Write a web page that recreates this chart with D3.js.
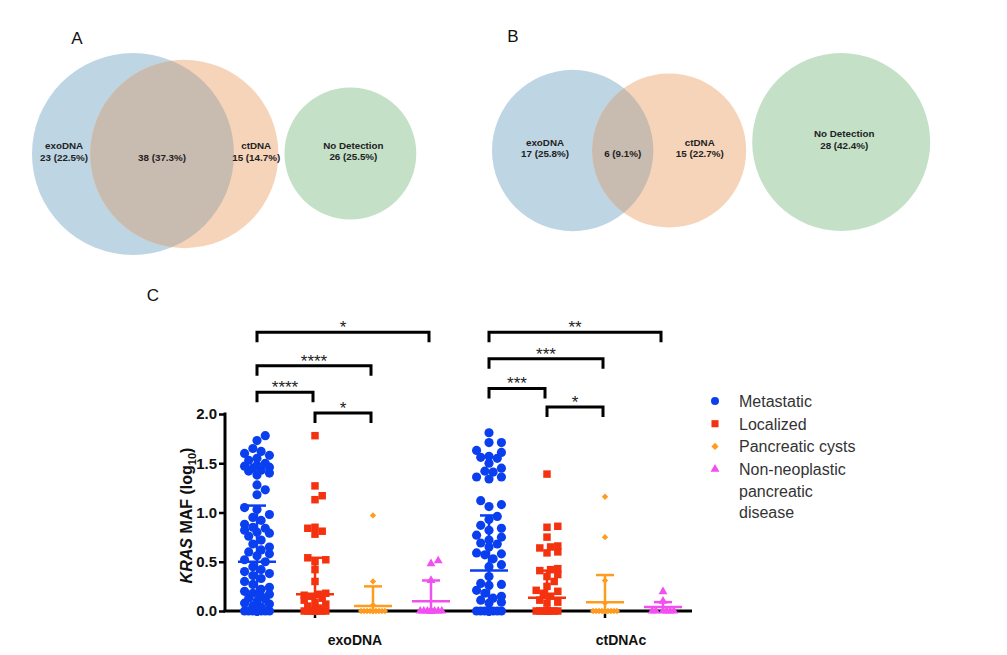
<!DOCTYPE html>
<html>
<head>
<meta charset="utf-8">
<script src="https://cdn.jsdelivr.net/npm/d3@7"></script>
<style>
  body { margin: 0; background: #fff; }
  svg { font-family: "Liberation Sans", Arial, sans-serif; }
</style>
</head>
<body>
<svg id="fig" width="1007" height="655"></svg>
<script>
// ---- venn data (A: all patients, B: second cohort) ----
const vennNames = ['exoDNA', 'ctDNA', 'No Detection'];
// exo only, both, ct only, none
const vennCountsA = [23, 38, 15, 26];
const vennPctA = ['22.5%', '37.3%', '14.7%', '25.5%'];
const vennCountsB = [17, 6, 15, 28];
const vennPctB = ['25.8%', '9.1%', '22.7%', '42.4%'];

// ---- panel C data ----
const groups = ['exoMet', 'exoLoc', 'exoCyst', 'exoNon', 'ctMet', 'ctLoc', 'ctCyst', 'ctNon'];
const groupType = [0, 1, 2, 3, 0, 1, 2, 3];
const typeNames = ['Metastatic', 'Localized', 'Pancreatic cysts', 'Non-neoplastic\npancreatic\ndisease'];

const exoMet = [1.78, 1.73, 1.65, 1.62, 1.60, 1.58, 1.55, 1.53, 1.50, 1.48, 1.47, 1.46, 1.45, 1.43, 1.42, 1.40, 1.38,
  1.28, 1.23, 1.18, 1.05, 1.03, 0.98, 0.95, 0.92, 0.88, 0.85, 0.84, 0.82, 0.80, 0.79, 0.76, 0.72, 0.68, 0.65, 0.62,
  0.60, 0.58, 0.56, 0.52, 0.50, 0.45, 0.42, 0.40, 0.38, 0.36, 0.33, 0.30, 0.27, 0.24, 0.22, 0.20, 0.18, 0.17, 0.15,
  0.13, 0.12, 0.10, 0.08, 0.07, 0.05, 0.04, 0.02, 0, 0, 0, 0, 0, 0, 0, 0, 0, 0, 0, 0, 0];
const exoLoc = [1.78, 1.27, 1.17, 1.13, 0.85, 0.84, 0.81, 0.78, 0.54, 0.52, 0.50, 0.42, 0.30, 0.18, 0.17, 0.16,
  0.15, 0.13, 0.11, 0.09, 0.07, 0.05, 0.03, 0.02, 0, 0, 0, 0, 0, 0, 0, 0, 0, 0];
const exoCyst = [0.97, 0.30, 0.06, 0, 0, 0, 0, 0, 0, 0, 0, 0, 0, 0, 0];
const exoNon = [0.51, 0.48, 0.31, 0, 0, 0, 0, 0, 0, 0, 0, 0, 0, 0];
const ctMet = [1.81, 1.71, 1.71, 1.63, 1.61, 1.57, 1.56, 1.55, 1.50, 1.45, 1.42, 1.41, 1.36, 1.36, 1.34, 1.12, 1.08,
  1.06, 0.96, 0.93, 0.87, 0.84, 0.82, 0.77, 0.75, 0.72, 0.69, 0.68, 0.65, 0.59, 0.58, 0.57, 0.53, 0.47, 0.45, 0.35,
  0.28, 0.27, 0.26, 0.21, 0.18, 0.15, 0.13, 0.11, 0.09, 0.08, 0, 0, 0, 0, 0, 0, 0, 0, 0, 0, 0, 0];
const ctLoc = [1.39, 0.86, 0.85, 0.75, 0.66, 0.65, 0.64, 0.60, 0.59, 0.43, 0.42, 0.41, 0.37, 0.35, 0.30, 0.25, 0.21,
  0.20, 0.18, 0.15, 0.11, 0.09, 0.08, 0, 0, 0, 0, 0, 0, 0, 0, 0, 0];
const ctCyst = [1.16, 0.75, 0.31, 0.08, 0, 0, 0, 0, 0, 0, 0, 0, 0, 0];
const ctNon = [0.196, 0.10, 0, 0, 0, 0, 0, 0];
const groupValues = [exoMet, exoLoc, exoCyst, exoNon, ctMet, ctLoc, ctCyst, ctNon];

const groupMean = [0.50, 0.17, 0.05, 0.10, 0.41, 0.135, 0.09, 0.04];
const groupSD = [0.57, 0.37, 0.20, 0.21, 0.56, 0.275, 0.275, 0.05];

const yTicks = [0, 0.5, 1.0, 1.5, 2.0];
const axisLabels = ['exoDNA', 'ctDNAc'];
const axisLabelGroup = [1, 6];

// comparisons: from group, to group, stars, bracket height (log10 units)
const cmpFrom = [0, 0, 0, 1, 4, 4, 4, 5];
const cmpTo = [3, 2, 1, 2, 7, 6, 5, 6];
const cmpStars = ['*', '****', '****', '*', '**', '***', '***', '*'];
const cmpLevel = [2.83, 2.49, 2.22, 2.01, 2.83, 2.56, 2.26, 2.07];

// ---- style ----
const colors = ['#0a3ff0', '#f5320f', '#ff9b1e', '#f24ff0'];
const vennFill = { exo: '#bed5e4', ct: '#f6d4ba', both: '#c8bbb0', none: '#c4e1c8' };

const svg = d3.select('#fig');

// ================= Venn diagrams =================
function lensArea(r1, r2, d) {
  if (d >= r1 + r2) return 0;
  if (d <= Math.abs(r1 - r2)) return Math.PI * Math.min(r1, r2) ** 2;
  const a = r1 * r1 * Math.acos((d * d + r1 * r1 - r2 * r2) / (2 * d * r1));
  const b = r2 * r2 * Math.acos((d * d + r2 * r2 - r1 * r1) / (2 * d * r2));
  const c = 0.5 * Math.sqrt((-d + r1 + r2) * (d + r1 - r2) * (d - r1 + r2) * (d + r1 + r2));
  return a + b - c;
}

function drawVenn(id, counts, pct, left, cy, cyNone, kScale, letterX, letterY) {
  const g = svg.append('g').attr('class', 'venn-' + id);
  const r = d3.scaleSqrt().domain([0, 1]).range([0, kScale]);
  const r1 = r(counts[0] + counts[1]);
  const r2 = r(counts[1] + counts[2]);
  const r3 = r(counts[3]);
  const target = Math.PI * kScale * kScale * counts[1];
  // bisection for the center distance that gives the right overlap area
  let lo = Math.abs(r1 - r2), hi = r1 + r2;
  for (let i = 0; i < 60; i++) {
    const mid = (lo + hi) / 2;
    if (lensArea(r1, r2, mid) > target) lo = mid; else hi = mid;
  }
  const d = (lo + hi) / 2;
  const c1 = left + r1;
  const c2 = c1 + d;
  const c3 = c2 + r2 + 6 + r3;

  const clipId = 'clip-' + id;
  g.append('clipPath').attr('id', clipId)
    .append('circle').attr('cx', c1).attr('cy', cy).attr('r', r1);

  g.append('circle').attr('cx', c1).attr('cy', cy).attr('r', r1).attr('fill', vennFill.exo);
  g.append('circle').attr('cx', c2).attr('cy', cy).attr('r', r2).attr('fill', vennFill.ct);
  g.append('circle').attr('cx', c2).attr('cy', cy).attr('r', r2)
    .attr('clip-path', `url(#${clipId})`).attr('fill', vennFill.both);
  g.append('circle').attr('cx', c3).attr('cy', cyNone).attr('r', r3).attr('fill', vennFill.none);

  const labels = [
    { x: (c1 - r1 + c2 - r2) / 2 + 3, y: cy, name: vennNames[0], val: `${counts[0]} (${pct[0]})` },
    { x: (c2 - r2 + c1 + r1) / 2, y: cy, name: null, val: `${counts[1]} (${pct[1]})` },
    { x: (c1 + r1 + c2 + r2) / 2, y: cy, name: vennNames[1], val: `${counts[2]} (${pct[2]})` },
    { x: c3 + 3, y: cyNone, name: vennNames[2], val: `${counts[3]} (${pct[3]})` },
  ];
  const t = g.selectAll('g.vlabel').data(labels).enter().append('g').attr('class', 'vlabel');
  t.filter(l => l.name).append('text')
    .attr('x', l => l.x).attr('y', l => l.y - 5)
    .attr('text-anchor', 'middle').attr('font-size', 9.8).attr('font-weight', 'bold').attr('fill', '#222')
    .text(l => l.name);
  t.append('text')
    .attr('x', l => l.x).attr('y', l => l.y + 6.5)
    .attr('text-anchor', 'middle').attr('font-size', 9.8).attr('font-weight', 'bold').attr('fill', '#222')
    .text(l => l.val);

  svg.append('text').attr('x', letterX).attr('y', letterY)
    .attr('text-anchor', 'middle').attr('font-size', 17).attr('fill', '#111').text(id);
}

drawVenn('A', vennCountsA, vennPctA, 32, 154, 153.5, 101 / Math.sqrt(61), 77, 44);
drawVenn('B', vennCountsB, vennPctB, 492, 150.5, 142, 89 / Math.sqrt(28), 513, 42);

// ================= Panel C =================
const plotLeft = 225, plotRight = 692;
const x = d3.scaleBand().domain(groups).range([228, plotRight]);
const y = d3.scaleLinear().domain([0, 2]).range([611, 414]);
const cx = i => x(groups[i]) + x.bandwidth() / 2;

svg.append('text').attr('x', 153).attr('y', 301)
  .attr('text-anchor', 'middle').attr('font-size', 17).attr('fill', '#111').text('C');

// y axis
const yAxis = svg.append('g')
  .attr('transform', `translate(${plotLeft},0)`)
  .call(d3.axisLeft(y).tickValues(yTicks).tickFormat(d3.format('.1f')).tickSize(6).tickSizeOuter(0));
yAxis.select('.domain').attr('stroke', '#000').attr('stroke-width', 3)
  .attr('d', `M0,${y(2) - 1.5}V${y(0)}`);
yAxis.selectAll('.tick line').attr('stroke', '#000').attr('stroke-width', 2.5);
yAxis.selectAll('.tick text').attr('font-size', 15).attr('font-weight', 'bold').attr('fill', '#111')
  .attr('font-family', '"Liberation Sans", Arial, sans-serif').attr('x', -8);

// x axis
svg.append('line').attr('x1', plotLeft - 1.5).attr('x2', plotRight)
  .attr('y1', y(0)).attr('y2', y(0)).attr('stroke', '#000').attr('stroke-width', 3);
svg.selectAll('line.xtick').data(axisLabelGroup).enter().append('line').attr('class', 'xtick')
  .attr('x1', i => cx(i)).attr('x2', i => cx(i))
  .attr('y1', y(0)).attr('y2', y(0) + 7).attr('stroke', '#000').attr('stroke-width', 2.5);
svg.selectAll('text.xlabel').data(axisLabels).enter().append('text').attr('class', 'xlabel')
  .attr('x', (d, i) => cx(axisLabelGroup[i]) + (i === 0 ? 40 : 16))
  .attr('y', 645)
  .attr('text-anchor', 'middle').attr('font-size', 14).attr('font-weight', 'bold').attr('fill', '#111')
  .text(d => d);

// y label
const yl = svg.append('text')
  .attr('transform', `translate(192,${(y(0) + y(2)) / 2 + 3}) rotate(-90)`)
  .attr('text-anchor', 'middle').attr('font-size', 16).attr('font-weight', 'bold').attr('fill', '#111');
yl.append('tspan').attr('font-style', 'italic').text('KRAS');
yl.append('tspan').text(' MAF (log');
yl.append('tspan').attr('font-size', 11).attr('dy', 4).text('10');
yl.append('tspan').attr('dy', -4).text(')');

// symbols
const symTypes = [d3.symbolCircle, d3.symbolSquare, d3.symbolSquare, d3.symbolTriangle];
const symSize = [66, 56, 20, 34];
const symRot = [0, 0, 45, 0];
const symR = [4.6, 4.0, 3.3, 4.0];

function swarm(vals, r, maxHalf) {
  const step = r * 0.9;
  const cands = [0];
  for (let k = 1; k * step <= maxHalf; k++) cands.push(k * step, -k * step);
  const placed = [];
  vals.slice().sort((a, b) => a - b).forEach((v) => {
    const py = y(v);
    let best = 0, bestD = -1, chosen = null;
    for (const c of cands) {
      let minD = Infinity;
      for (const p of placed) {
        const dd = Math.hypot(c - p.dx, py - p.py);
        if (dd < minD) minD = dd;
      }
      if (minD >= 2 * r * 0.95) { chosen = c; break; }
      if (minD > bestD) { bestD = minD; best = c; }
    }
    placed.push({ v, dx: chosen === null ? best : chosen, py });
  });
  return placed;
}

groupValues.forEach((vals, gi) => {
  const t = groupType[gi];
  const pts = swarm(vals, symR[t], 14);
  const sym = d3.symbol().type(symTypes[t]).size(symSize[t]);
  svg.append('g').attr('class', 'pts-' + groups[gi])
    .selectAll('path').data(pts).enter().append('path')
    .attr('d', sym)
    .attr('transform', p => `translate(${cx(gi) + p.dx},${p.py}) rotate(${symRot[t]})`)
    .attr('fill', colors[t]);
});

// mean +/- SD
groupMean.forEach((m, gi) => {
  const col = colors[groupType[gi]];
  const g = svg.append('g').attr('class', 'err').attr('stroke', col).attr('stroke-width', 2.5);
  const c = cx(gi);
  g.append('line').attr('x1', c).attr('x2', c)
    .attr('y1', y(Math.max(0, m - groupSD[gi]))).attr('y2', y(m + groupSD[gi]));
  g.append('line').attr('x1', c - 19).attr('x2', c + 19).attr('y1', y(m)).attr('y2', y(m));
  g.append('line').attr('x1', c - 9).attr('x2', c + 9)
    .attr('y1', y(m + groupSD[gi])).attr('y2', y(m + groupSD[gi]));
});

// significance brackets
cmpFrom.forEach((a, i) => {
  const x1 = cx(a), x2 = cx(cmpTo[i]) - 2, yy = y(cmpLevel[i]);
  svg.append('path')
    .attr('d', `M${x1},${yy + 10}V${yy}H${x2}V${yy + 10}`)
    .attr('fill', 'none').attr('stroke', '#000').attr('stroke-width', 3);
  svg.append('text').attr('x', (x1 + x2) / 2).attr('y', yy + 1)
    .attr('text-anchor', 'middle').attr('font-size', 17).attr('fill', '#222')
    .text(cmpStars[i]);
});

// legend
const legend = svg.append('g').attr('class', 'legend').attr('transform', 'translate(715,401)');
const legRows = legend.selectAll('g').data(typeNames).enter().append('g')
  .attr('transform', (d, i) => `translate(0,${i * 22.7})`);
legRows.append('path')
  .attr('d', (d, i) => d3.symbol().type(symTypes[i]).size([50, 50, 26, 34][i])())
  .attr('transform', (d, i) => `rotate(${symRot[i]})`)
  .attr('fill', (d, i) => colors[i]);
legRows.each(function (d) {
  const txt = d3.select(this).append('text').attr('x', 24).attr('y', 6)
    .attr('font-size', 16).attr('fill', '#333');
  d.split('\n').forEach((line, k) => {
    txt.append('tspan').attr('x', 24).attr('dy', k === 0 ? 0 : 21.5).text(line);
  });
});
</script>
</body>
</html>
